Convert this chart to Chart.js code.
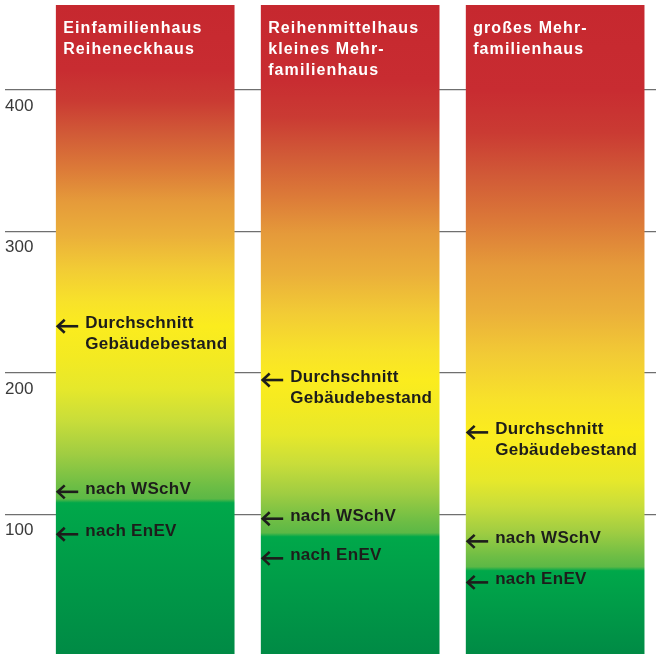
<!DOCTYPE html>
<html>
<head>
<meta charset="utf-8">
<title>Energiekennwerte</title>
<script src="https://cdn.jsdelivr.net/npm/chart.js"></script>
<style>
  html, body { margin: 0; padding: 0; background: #fff; overflow: hidden; }
  #wrap { width: 656px; height: 656px; }
</style>
</head>
<body>
<div id="wrap"><canvas id="chart"></canvas></div>
<script>
  // bar titles, one entry per house type
  const houseTypes = [
    ['Einfamilienhaus', 'Reiheneckhaus'],
    ['Reihenmittelhaus', 'kleines Mehr-', 'familienhaus'],
    ['großes Mehr-', 'familienhaus']
  ];
  const barTop = [460, 460, 460];
  const yTicks = [100, 200, 300, 400];
  // marker values
  const avgStock = [233, 195, 158];
  const afterWSchV = [116, 97, 81];
  const afterEnEV = [86, 69, 52];
  // value where the fill switches to green
  const greenFrom = [111, 87, 63];
  const markerLabels = [['Durchschnitt', 'Gebäudebestand'], ['nach WSchV'], ['nach EnEV']];

  // colour stops: upper part from average (0) to top (1), lower part from green step (0) to average (1)
  const upperStops = [[1, '#c6282f'], [0.8, '#c82c31'], [0.7, '#ca3b33'], [0.6, '#d15a37'], [0.49, '#dc7a38'],
    [0.39, '#e59a3a'], [0.28, '#ebb03a'], [0.18, '#f2cb35'], [0.075, '#f8e22a'], [0, '#fbec1e']];
  const lowerStops = [[0.82, '#f3ea22'], [0.64, '#e6e82b'], [0.45, '#c8dd3a'], [0.26, '#a0cd42'],
    [0.07, '#6cbd45'], [0, '#5cb846']];

  function columnFill(c) {
    const chart = c.chart;
    if (!chart.chartArea) return '#f0e020';
    const i = c.dataIndex;
    const y = chart.scales.y;
    const top = y.getPixelForValue(barTop[i]), bottom = y.getPixelForValue(0);
    const g = chart.ctx.createLinearGradient(0, top, 0, bottom);
    const pos = v => Math.min(1, Math.max(0, (y.getPixelForValue(v) - top) / (bottom - top)));
    const avg = avgStock[i], step = greenFrom[i];
    upperStops.forEach(([t, col]) => g.addColorStop(pos(avg + t * (barTop[i] - avg)), col));
    lowerStops.forEach(([t, col]) => g.addColorStop(pos(step + t * (avg - step)), col));
    g.addColorStop(pos(step) + 0.006, '#00a84a');
    g.addColorStop(1, '#008a45');
    return g;
  }

  function drawArrow(ctx, x0, x1, yy) {
    ctx.strokeStyle = '#1d1d1b';
    ctx.lineWidth = 2.6;
    ctx.beginPath();
    ctx.moveTo(x1, yy);
    ctx.lineTo(x0 + 1, yy);
    ctx.stroke();
    ctx.beginPath();
    ctx.moveTo(x0 + 7, yy - 6.5);
    ctx.lineTo(x0, yy);
    ctx.lineTo(x0 + 7, yy + 6.5);
    ctx.stroke();
  }

  // titles and markers on top of the columns
  const overlay = {
    id: 'overlay',
    afterDatasetsDraw(chart) {
      const ctx = chart.ctx, y = chart.scales.y;
      chart.getDatasetMeta(0).data.forEach((bar, i) => {
        const left = bar.x - bar.width / 2;
        ctx.save();
        ctx.textBaseline = 'alphabetic';
        ctx.textAlign = 'left';
        ctx.fillStyle = '#fff';
        ctx.font = 'bold 16px "Liberation Sans", Arial, sans-serif';
        ctx.letterSpacing = '1.1px';
        houseTypes[i].forEach((line, k) => ctx.fillText(line, left + 7, bar.y + 28 + k * 21));

        [avgStock, afterWSchV, afterEnEV].forEach((arr, m) => {
          const py = y.getPixelForValue(arr[i]);
          drawArrow(ctx, left + 1.5, left + 22, py);
          ctx.fillStyle = '#1d1d1b';
          ctx.font = 'bold 17px "Liberation Sans", Arial, sans-serif';
          ctx.letterSpacing = '0.3px';
          markerLabels[m].forEach((line, k) => ctx.fillText(line, left + 29, py + 2 + k * 21));
        });
        ctx.restore();
      });
    }
  };

  new Chart(document.getElementById('chart'), {
    type: 'bar',
    data: {
      datasets: [{
        data: barTop.map((v, i) => ({ x: i, y: v })),
        backgroundColor: columnFill,
        borderWidth: 0,
        barThickness: 178
      }]
    },
    options: {
      responsive: true,
      maintainAspectRatio: false,
      animation: false,
      layout: { padding: { left: 5, top: 5, right: 0, bottom: 0 } },
      plugins: { legend: { display: false }, tooltip: { enabled: false } },
      scales: {
        x: { type: 'linear', display: false, offset: false, min: -0.684, max: 2.492 },
        y: {
          min: 0,
          max: 460,
          border: { display: false },
          grid: { color: '#6f6f6f', lineWidth: 1.3, drawTicks: false },
          ticks: {
            stepSize: 100,
            includeBounds: false,
            mirror: true,
            padding: 0,
            labelOffset: 16,
            color: '#3a3a3a',
            font: { size: 17, family: '"Liberation Sans", Arial, sans-serif' },
            callback: v => yTicks.includes(v) ? String(v) : ''
          },
          afterFit: s => { s.paddingTop = 0; s.paddingBottom = 0; }
        }
      }
    },
    plugins: [overlay]
  });
</script>
</body>
</html>
